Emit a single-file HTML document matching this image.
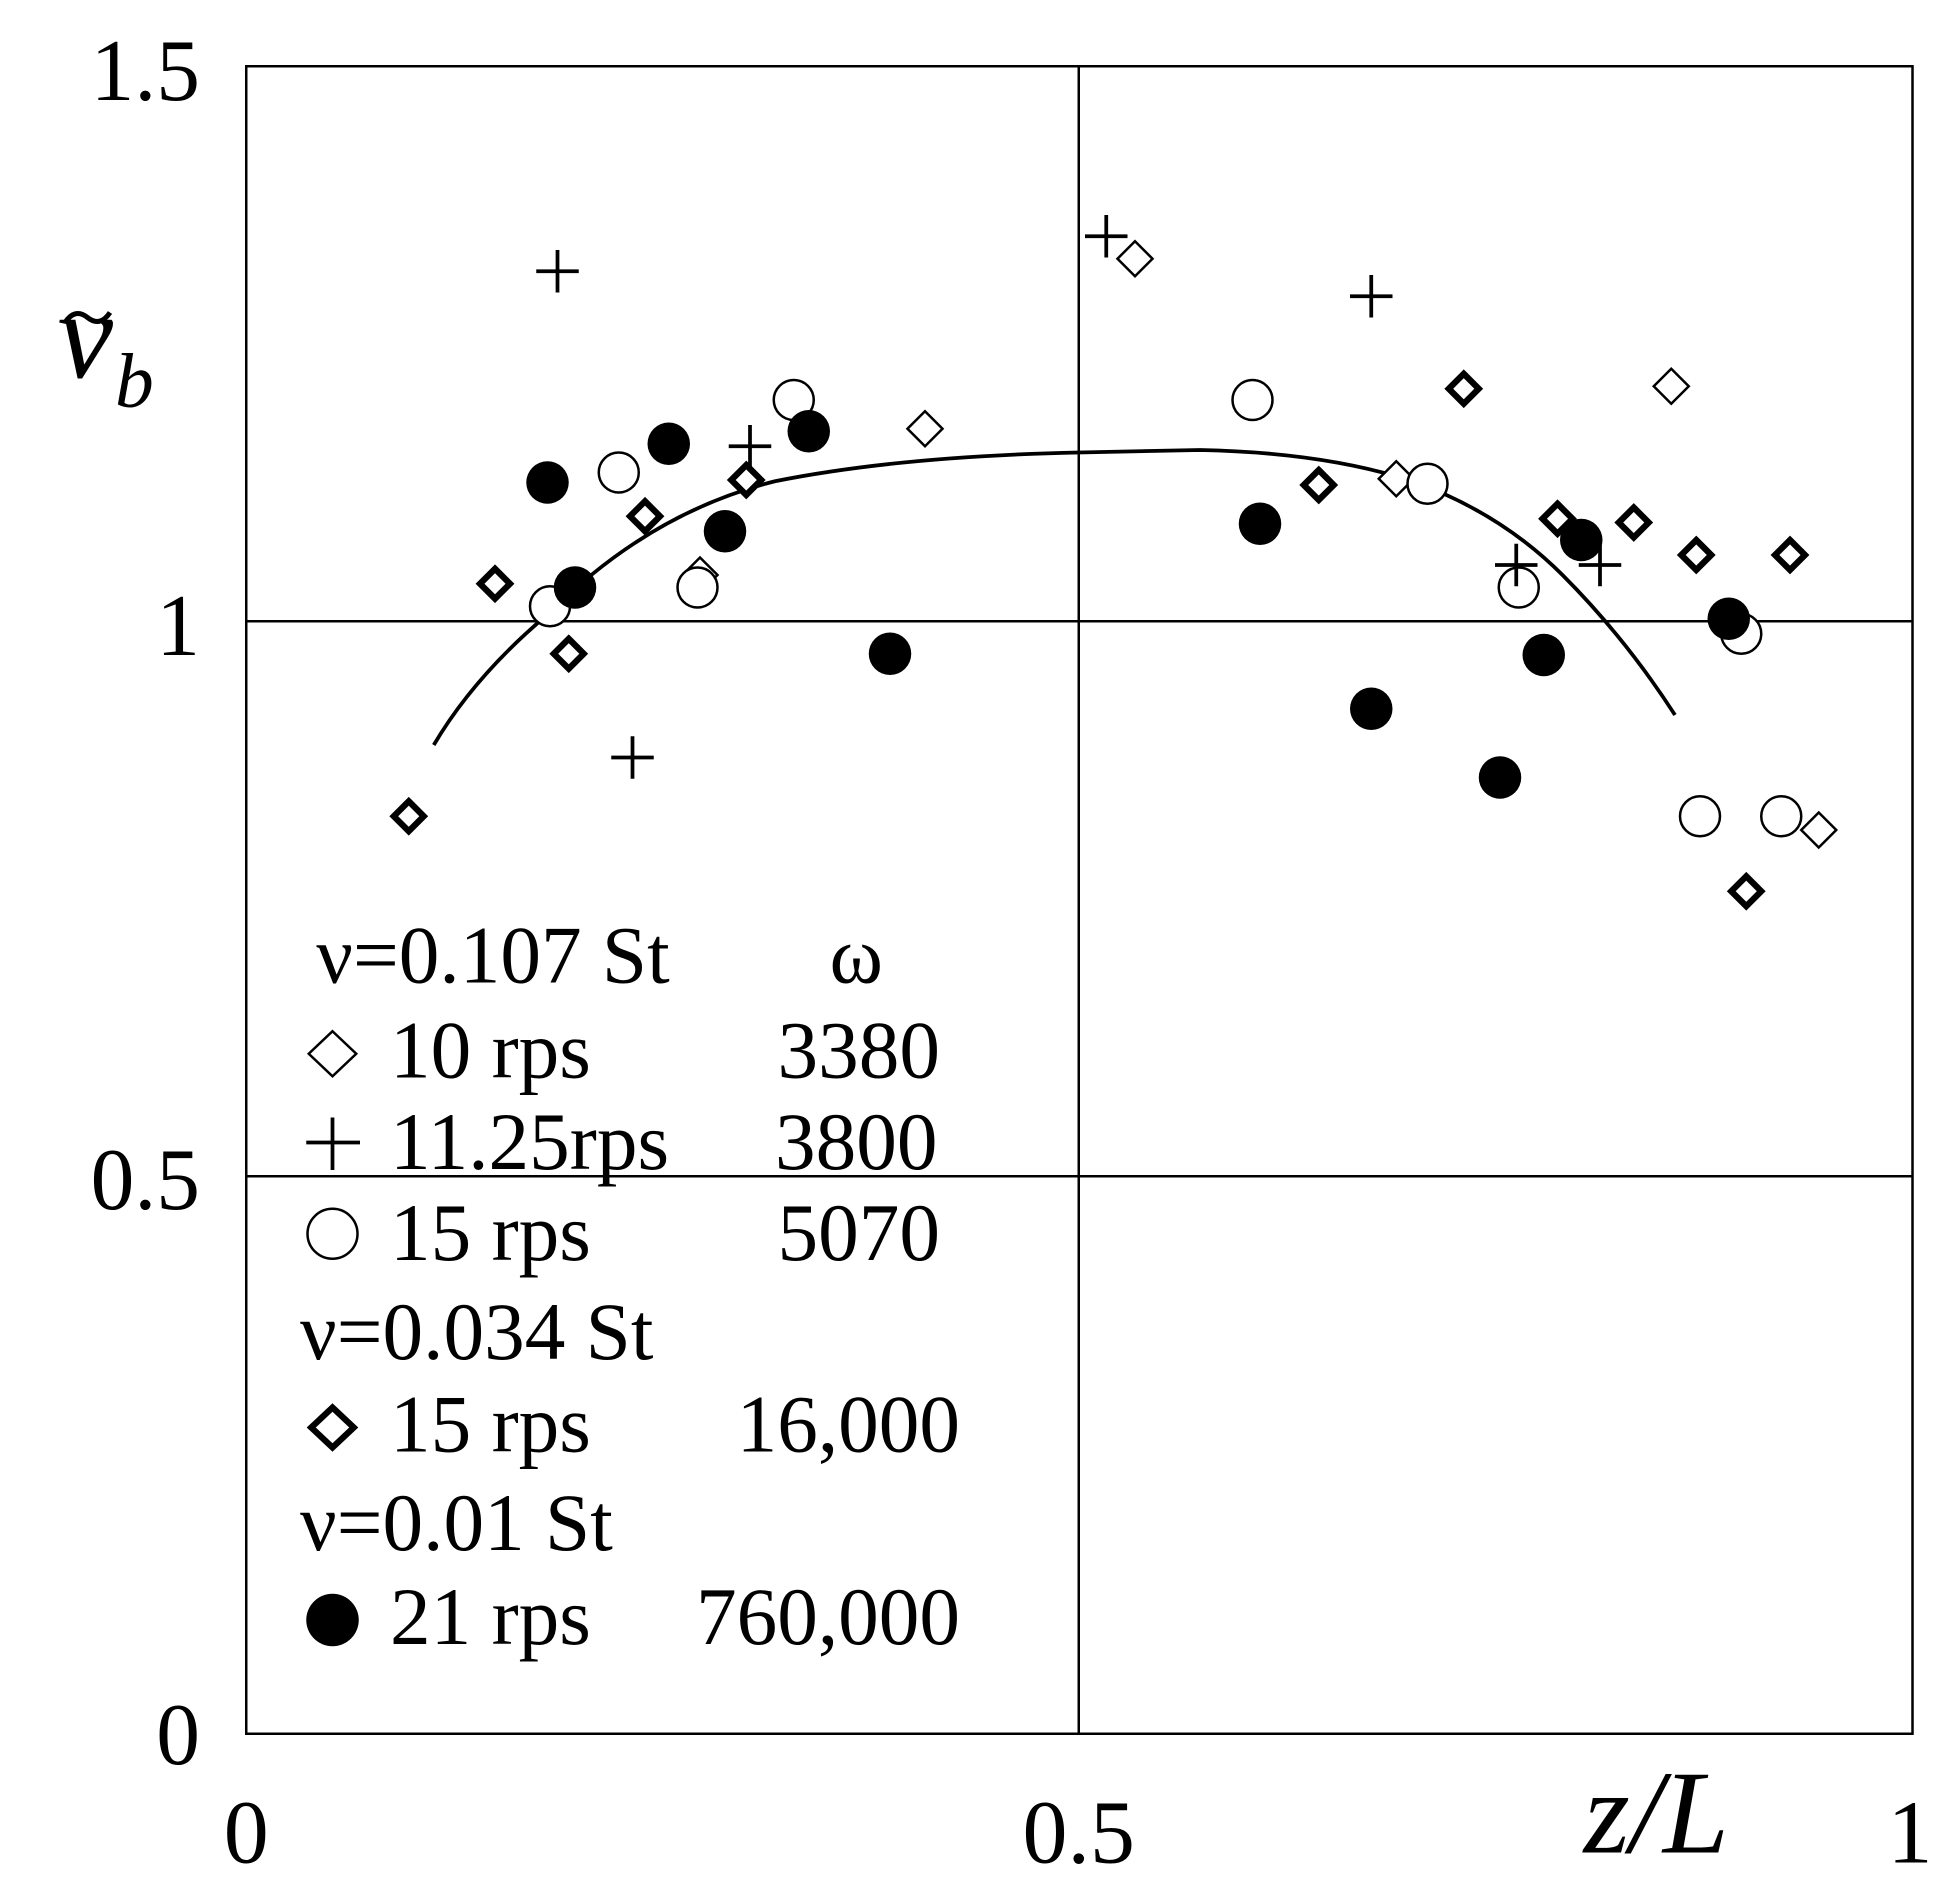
<!DOCTYPE html>
<html><head><style>html,body{margin:0;padding:0;background:#fff}svg{display:block}</style></head>
<body>
<svg width="1950" height="1903" viewBox="0 0 1560 1522.4" preserveAspectRatio="none" xmlns="http://www.w3.org/2000/svg" font-family="Liberation Serif, serif">
<rect x="197" y="53" width="1333" height="1334" fill="none" stroke="#000" stroke-width="2"/>
<line x1="863" y1="53" x2="863" y2="1387" stroke="#000" stroke-width="2"/>
<line x1="197" y1="497" x2="1530" y2="497" stroke="#000" stroke-width="2"/>
<line x1="197" y1="941" x2="1530" y2="941" stroke="#000" stroke-width="2"/>
<g font-size="70" text-anchor="end">
<text x="160" y="80">1.5</text><text x="160" y="524">1</text><text x="160" y="967">0.5</text><text x="160" y="1411">0</text>
</g>
<g font-size="72" text-anchor="middle">
<text x="197" y="1490">0</text><text x="863" y="1490">0.5</text><text x="1528" y="1490">1</text>
</g>
<text x="1325" y="1482" font-size="95" font-style="italic" text-anchor="middle">z/L</text>
<text x="46" y="302" font-size="100" font-style="italic">v</text>
<path d="M52,258 Q60,246 70,254 Q80,262 88,250" fill="none" stroke="#000" stroke-width="4"/>
<text x="92" y="325" font-size="62" font-style="italic">b</text>
<path d="M347,596 Q380,540 440,490 Q520,410 620,385 Q720,365 863,362 L960,360 Q1060,362 1130,385 Q1200,410 1250,460 Q1300,510 1340,572" fill="none" stroke="#000" stroke-width="3"/>
<defs>
<g id="od"><path d="M0,-14 L14,0 L0,14 L-14,0Z" fill="#fff" stroke="#000" stroke-width="2"/></g>
<g id="bd"><path d="M0,-12 L12,0 L0,12 L-12,0Z" fill="#fff" stroke="#000" stroke-width="5"/></g>
<g id="pl"><path d="M-17,0 H17 M0,-17 V17" stroke="#000" stroke-width="3"/></g>
<g id="oc"><circle r="16" fill="#fff" stroke="#000" stroke-width="2"/></g>
<g id="fc"><circle r="17" fill="#000"/></g>
</defs>
<use href="#od" x="560" y="460"/><use href="#od" x="740" y="343"/><use href="#od" x="908" y="207"/><use href="#od" x="1117" y="383"/><use href="#od" x="1337" y="309"/><use href="#od" x="1455" y="664"/>
<use href="#oc" x="440" y="485"/><use href="#oc" x="495" y="378"/><use href="#oc" x="558" y="470"/><use href="#oc" x="635" y="320"/><use href="#oc" x="1002" y="320"/><use href="#oc" x="1142" y="387"/><use href="#oc" x="1215" y="470"/><use href="#oc" x="1393" y="507"/><use href="#oc" x="1360" y="653"/><use href="#oc" x="1425" y="653"/>
<use href="#pl" x="446" y="217"/><use href="#pl" x="506" y="606"/><use href="#pl" x="600" y="357"/><use href="#pl" x="885" y="189"/><use href="#pl" x="1097" y="237"/><use href="#pl" x="1213" y="452"/><use href="#pl" x="1280" y="452"/>
<use href="#bd" x="327" y="653"/><use href="#bd" x="396" y="467"/><use href="#bd" x="455" y="523"/><use href="#bd" x="516" y="413"/><use href="#bd" x="597" y="384"/><use href="#bd" x="1055" y="388"/><use href="#bd" x="1171" y="311"/><use href="#bd" x="1246" y="415"/><use href="#bd" x="1307" y="418"/><use href="#bd" x="1357" y="444"/><use href="#bd" x="1432" y="444"/><use href="#bd" x="1397" y="713"/>
<use href="#fc" x="438" y="386"/><use href="#fc" x="460" y="470"/><use href="#fc" x="535" y="355"/><use href="#fc" x="580" y="425"/><use href="#fc" x="647" y="345"/><use href="#fc" x="712" y="523"/><use href="#fc" x="1008" y="419"/><use href="#fc" x="1097" y="567"/><use href="#fc" x="1200" y="622"/><use href="#fc" x="1235" y="524"/><use href="#fc" x="1265" y="432"/><use href="#fc" x="1383" y="495"/>
<g font-size="65">
<text x="253" y="786">ν=0.107 St</text><text x="685" y="786" text-anchor="middle">ω</text>
<text x="312" y="862">10 rps</text><text x="752" y="862" text-anchor="end">3380</text>
<text x="312" y="935">11.25rps</text><text x="750" y="935" text-anchor="end">3800</text>
<text x="312" y="1008">15 rps</text><text x="752" y="1008" text-anchor="end">5070</text>
<text x="240" y="1087">ν=0.034 St</text>
<text x="312" y="1161">15 rps</text><text x="768" y="1161" text-anchor="end">16,000</text>
<text x="240" y="1240">ν=0.01 St</text>
<text x="312" y="1315">21 rps</text><text x="768" y="1315" text-anchor="end">760,000</text>
</g>
<path d="M266,825 L285,843 L266,861 L247,843Z" fill="#fff" stroke="#000" stroke-width="2"/>
<path d="M245,914 H288 M266,894 V936" stroke="#000" stroke-width="3"/>
<circle cx="266" cy="987" r="20" fill="#fff" stroke="#000" stroke-width="2"/>
<path d="M266,1126 L283,1142 L266,1158 L249,1142Z" fill="#fff" stroke="#000" stroke-width="5"/>
<circle cx="266" cy="1296" r="21" fill="#000"/>
</svg>
</body></html>
